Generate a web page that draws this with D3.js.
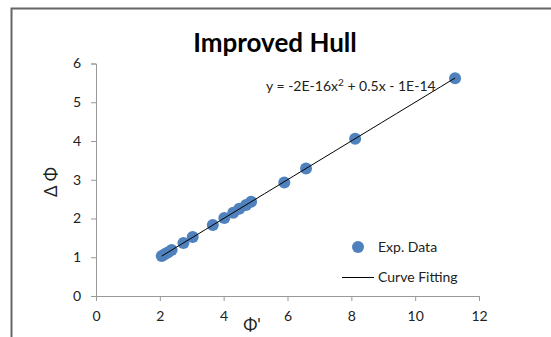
<!DOCTYPE html>
<html lang="en">
  <head>
    <meta charset="utf-8" />
    <style>
      body {
        margin: 0;
        background: #fff;
      }
      svg text {
        font-family: Lato, "Liberation Sans", sans-serif;
      }
    </style>
  </head>
  <body>
    <svg id="chart" width="551" height="337"></svg>
    <script src="https://d3js.org/d3.v7.min.js"></script>
    <script>
      // Exp. data
      const phi = [2.06, 2.15, 2.25, 2.37, 2.74, 3.03, 3.66, 4.02, 4.3, 4.49, 4.7, 4.86, 5.9, 6.58, 8.12, 11.25];
      const deltaPhi = [1.03, 1.08, 1.12, 1.19, 1.37, 1.52, 1.83, 2.01, 2.15, 2.25, 2.35, 2.43, 2.93, 3.29, 4.06, 5.62];
      const xTicks = [0, 2, 4, 6, 8, 10, 12];
      const yTicks = [0, 1, 2, 3, 4, 5, 6];
      const fit = { a: -2e-16, b: 0.5, c: -1e-14 };

      const svg = d3.select("#chart");
      const blue = "#4f81bd";

      // chart frame (only top-left corner is in view)
      svg
        .append("path")
        .attr("d", "M11.5,340 V8.5 H560")
        .attr("fill", "none")
        .attr("stroke", "#666")
        .attr("stroke-width", 2);

      const x = d3.scaleLinear().domain([0, 12]).range([96, 479]);
      const y = d3.scaleLinear().domain([0, 6]).range([296, 63.5]);

      const xAxis = svg
        .append("g")
        .attr("transform", `translate(0,${y(0)})`)
        .call(d3.axisBottom(x).tickValues(xTicks).tickFormat(d3.format("d")).tickSize(5).tickPadding(10));
      const yAxis = svg
        .append("g")
        .attr("transform", `translate(${x(0)},0)`)
        .call(d3.axisLeft(y).tickValues(yTicks).tickFormat(d3.format("d")).tickSize(5).tickPadding(10));

      [xAxis, yAxis].forEach(g => {
        g.select(".domain").attr("stroke", "#999");
        g.selectAll(".tick line").attr("stroke", "#999");
        g.selectAll(".tick text")
          .attr("fill", "#222")
          .style("font-size", "14px");
      });

      // points
      const pts = phi.map((v, i) => ({ x: v, y: deltaPhi[i] }));
      svg
        .append("g")
        .selectAll("circle")
        .data(pts)
        .join("circle")
        .attr("cx", d => x(d.x))
        .attr("cy", d => y(d.y))
        .attr("r", 6)
        .attr("fill", blue);

      // trendline
      const x0 = d3.min(phi);
      const x1 = d3.max(phi);
      const fitPts = d3.range(0, 21).map(i => {
        const xv = x0 + ((x1 - x0) * i) / 20;
        return [xv, fit.a * xv * xv + fit.b * xv + fit.c];
      });
      svg
        .append("path")
        .datum(fitPts)
        .attr("fill", "none")
        .attr("stroke", "#000")
        .attr("stroke-width", 1)
        .attr("d", d3.line().x(d => x(d[0])).y(d => y(d[1])));

      // title
      svg
        .append("text")
        .attr("x", 275)
        .attr("y", 52)
        .attr("text-anchor", "middle")
        .style("font-size", "26px")
        .style("font-weight", "bold")
        .text("Improved Hull");

      // equation
      const eq = svg
        .append("text")
        .attr("x", 266)
        .attr("y", 91)
        .attr("fill", "#222")
        .style("font-size", "14px");
      eq.append("tspan").text("y = -2E-16x");
      eq.append("tspan").attr("dy", -5).style("font-size", "10px").text("2");
      eq.append("tspan").attr("dy", 5).text(" + 0.5x - 1E-14");

      // axis titles
      svg
        .append("text")
        .attr("transform", "translate(57,182) rotate(-90)")
        .attr("text-anchor", "middle")
        .attr("fill", "#222")
        .style("font-size", "17px")
        .text("Δ Φ");
      svg
        .append("text")
        .attr("x", 252)
        .attr("y", 331)
        .attr("text-anchor", "middle")
        .attr("fill", "#222")
        .style("font-size", "17px")
        .text("Φ'");

      // legend
      const legend = svg.append("g");
      legend
        .append("circle")
        .attr("cx", 358)
        .attr("cy", 247)
        .attr("r", 6)
        .attr("fill", blue);
      legend
        .append("text")
        .attr("x", 378)
        .attr("y", 252)
        .attr("fill", "#222")
        .style("font-size", "14px")
        .text("Exp. Data");
      legend
        .append("line")
        .attr("x1", 342)
        .attr("x2", 374)
        .attr("y1", 277.5)
        .attr("y2", 277.5)
        .attr("stroke", "#000");
      legend
        .append("text")
        .attr("x", 378)
        .attr("y", 282)
        .attr("fill", "#222")
        .style("font-size", "14px")
        .text("Curve Fitting");
    </script>
  </body>
</html>
